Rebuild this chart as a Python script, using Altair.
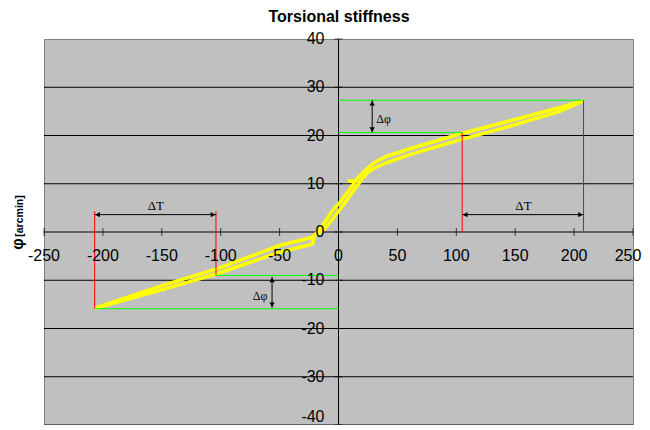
import altair as alt
import pandas as pd

# ---- hysteresis curve (T in Nm, phi in arcmin) ----
upper_T = [-207, -150, -104, -50, -22, -16, -5, 1, 9.4, 16.4, 21, 25, 30, 40, 60, 103, 145, 188, 208]
upper_phi = [-15.8, -11.1, -7.7, -2.8, -1.1, 0.5, 4.5, 6.1, 8.8, 11.2, 12.4, 13.3, 14.3, 15.6, 17.2, 20.3, 23.0, 25.8, 27.2]
lower_T = [-207, -150, -104, -50, -22, -20.5, -12, -4, 2.3, 8, 13.6, 20.7, 26, 30, 40, 60, 103, 145, 188, 208]
lower_phi = [-15.8, -12.0, -8.7, -4.2, -2.5, -0.8, 0.6, 3.0, 5.0, 6.9, 8.8, 11.2, 12.6, 13.2, 14.3, 16.0, 19.1, 21.9, 25.0, 27.2]
start_T = [8, 16]
start_phi = [10.5, 10.6]

x_ticks = [-250, -200, -150, -100, -50, 0, 50, 100, 150, 200, 250]
y_ticks = [-40, -30, -20, -10, 0, 10, 20, 30, 40]
grid_y = [-40, -30, -20, -10, 10, 20, 30]
x_range = [-250, 250]
y_range = [-40, 40]

# ---- annotation values ----
red_T = [105, 208, -104, -207]
red_from = [0, 0, 4.3, 4.3]
red_to = [20.6, 27.3, -9.0, -15.9]
green_from = [0, 0, -104, -207]
green_to = [105, 208, 0, 0]
green_phi = [20.6, 27.3, -9.0, -15.9]

dT_from = [105, -207]
dT_to = [208, -104]
dT_level = [3.6, 3.6]
dT_label_T = [157, -155]
dT_label_phi = [5.3, 5.3]

dphi_T = [28.6, -56.4]
dphi_hi = [27.3, -9.3]
dphi_lo = [20.6, -15.7]
dphi_label_T = [32, -60.4]
dphi_label_phi = [23.5, -13.3]

XS = alt.Scale(domain=x_range, nice=False, zero=False)
YS = alt.Scale(domain=y_range, nice=False, zero=False)
FONT = "Liberation Sans"
SERIF = "Liberation Serif"


def X(f):
    return alt.X(f, type="quantitative", scale=XS, axis=None)


def Y(f):
    return alt.Y(f, type="quantitative", scale=YS, axis=None)


curve = pd.DataFrame(
    [{"T": t, "phi": p, "b": "up", "i": i} for i, (t, p) in enumerate(zip(upper_T, upper_phi))]
    + [{"T": t, "phi": p, "b": "lo", "i": i} for i, (t, p) in enumerate(zip(lower_T, lower_phi))]
    + [{"T": t, "phi": p, "b": "st", "i": i} for i, (t, p) in enumerate(zip(start_T, start_phi))]
)

grid = alt.Chart(pd.DataFrame({"phi": grid_y})).mark_rule(color="black", strokeWidth=1).encode(y=Y("phi"))

xaxis = alt.Chart(pd.DataFrame({"t1": [x_range[0]], "t2": [x_range[1]], "phi": [0]})).mark_rule(color="black").encode(
    x=X("t1"), x2="t2:Q", y=Y("phi"))
yaxis = alt.Chart(pd.DataFrame({"T": [0], "p1": [y_range[0]], "p2": [y_range[1]]})).mark_rule(color="black").encode(
    x=X("T"), y=Y("p1"), y2="p2:Q")

xt = pd.DataFrame({"T": x_ticks, "lab": [str(v) for v in x_ticks], "phi": [0] * len(x_ticks)})
yt = pd.DataFrame({"phi": y_ticks, "lab": [str(v) for v in y_ticks], "T": [0] * len(y_ticks)})

xtick_marks = alt.Chart(xt).mark_tick(orient="vertical", size=8, thickness=1, color="black").encode(
    x=X("T"), y=Y("phi"))
ytick_marks = alt.Chart(yt).mark_tick(orient="horizontal", size=8, thickness=1, color="black").encode(
    y=Y("phi"), x=X("T"))
xlabels = alt.Chart(xt.iloc[:-1]).mark_text(font=FONT, fontSize=16, dy=24, baseline="middle", align="center", color="black").encode(
    x=X("T"), y=Y("phi"), text="lab:N")
xlabel_last = alt.Chart(xt.iloc[-1:]).mark_text(font=FONT, fontSize=16, dy=24, dx=-5, baseline="middle", align="center", color="black").encode(
    x=X("T"), y=Y("phi"), text="lab:N")
ylabels = alt.Chart(yt.iloc[1:]).mark_text(font=FONT, fontSize=16, dx=-14, baseline="middle", align="right", color="black").encode(
    y=Y("phi"), x=X("T"), text="lab:N")
ylabel_first = alt.Chart(yt.iloc[:1]).mark_text(font=FONT, fontSize=16, dx=-14, dy=-8, baseline="middle", align="right", color="black").encode(
    y=Y("phi"), x=X("T"), text="lab:N")

lines = alt.Chart(curve).mark_line(color="#FFFF00", strokeWidth=3.5).encode(
    x=X("T"), y=Y("phi"), detail="b:N", order="i:Q")

red = alt.Chart(pd.DataFrame({"T": red_T, "p1": red_from, "p2": red_to})).mark_rule(color="#FF0000", strokeWidth=1).encode(
    x=X("T"), y=Y("p1"), y2="p2:Q")
green = alt.Chart(pd.DataFrame({"t1": green_from, "t2": green_to, "phi": green_phi})).mark_rule(color="#00FF00", strokeWidth=1).encode(
    x=X("t1"), x2="t2:Q", y=Y("phi"))

dT = pd.DataFrame({"t1": dT_from, "t2": dT_to, "phi": dT_level})
dT_line = alt.Chart(dT).mark_rule(color="black").encode(x=X("t1"), x2="t2:Q", y=Y("phi"))
dT_head_l = alt.Chart(dT).mark_point(shape="triangle-left", filled=True, size=28, color="black", opacity=1, xOffset=3).encode(
    x=X("t1"), y=Y("phi"))
dT_head_r = alt.Chart(dT).mark_point(shape="triangle-right", filled=True, size=28, color="black", opacity=1, xOffset=-3).encode(
    x=X("t2"), y=Y("phi"))
dT_text = alt.Chart(pd.DataFrame({"T": dT_label_T, "phi": dT_label_phi})).mark_text(
    text="ΔT", font=SERIF, fontSize=13, align="center", baseline="middle", color="black").encode(x=X("T"), y=Y("phi"))

dp = pd.DataFrame({"T": dphi_T, "p1": dphi_hi, "p2": dphi_lo})
dp_line = alt.Chart(dp).mark_rule(color="black").encode(x=X("T"), y=Y("p1"), y2="p2:Q")
dp_head_u = alt.Chart(dp).mark_point(shape="triangle-up", filled=True, size=28, color="black", opacity=1, yOffset=3).encode(
    x=X("T"), y=Y("p1"))
dp_head_d = alt.Chart(dp).mark_point(shape="triangle-down", filled=True, size=28, color="black", opacity=1, yOffset=-3).encode(
    x=X("T"), y=Y("p2"))
dp_text_r = alt.Chart(pd.DataFrame({"T": dphi_label_T[:1], "phi": dphi_label_phi[:1]})).mark_text(
    text="Δφ", font=SERIF, fontSize=12, align="left", baseline="middle", color="black").encode(x=X("T"), y=Y("phi"))
dp_text_l = alt.Chart(pd.DataFrame({"T": dphi_label_T[1:], "phi": dphi_label_phi[1:]})).mark_text(
    text="Δφ", font=SERIF, fontSize=12, align="right", baseline="middle", color="black").encode(x=X("T"), y=Y("phi"))

one = pd.DataFrame({"a": [0]})
title = alt.Chart(one).mark_text(
    text="Torsional stiffness", font=FONT, fontSize=16, fontWeight="bold", align="center", baseline="middle", color="black"
).encode(x=alt.value(295), y=alt.value(-22))
ytitle_phi = alt.Chart(one).mark_text(
    text="φ", font=FONT, fontSize=16, fontWeight="bold", angle=270, align="center", baseline="middle", color="black"
).encode(x=alt.value(-26), y=alt.value(205))
ytitle_unit = alt.Chart(one).mark_text(
    text="[arcmin]", font=FONT, fontSize=10.5, fontWeight="bold", angle=270, align="center", baseline="middle", color="black"
).encode(x=alt.value(-24), y=alt.value(177))

chart = alt.layer(
    grid, xaxis, yaxis, xtick_marks, ytick_marks, lines, red, green,
    dT_line, dT_head_l, dT_head_r, dT_text, dp_line, dp_head_u, dp_head_d, dp_text_r, dp_text_l,
    xlabels, xlabel_last, ylabels, ylabel_first, title, ytitle_phi, ytitle_unit
).properties(
    width=589, height=386,
    autosize=alt.AutoSizeParams(type="none"),
    padding={"left": 36, "top": 31, "right": 9, "bottom": 0},
).configure_view(fill="#C0C0C0", stroke="#808080", strokeWidth=1)

chart.save("out.html", embed_options={"renderer": "svg", "actions": False})
